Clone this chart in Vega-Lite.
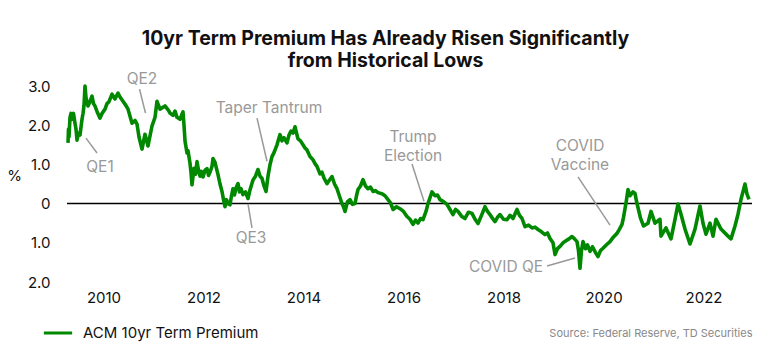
{
  "$schema": "https://vega.github.io/schema/vega-lite/v6.json",
  "width": 685,
  "height": 196,
  "autosize": "none",
  "padding": {"left": 67, "top": 86, "right": 18, "bottom": 68},
  "background": "white",
  "config": {"view": {"stroke": null}, "font": "Inter", "axis": {"labelOverlap": false}},
  "title": {
    "text": ["10yr Term Premium Has Already Risen Significantly", "from Historical Lows"],
    "anchor": "middle",
    "fontSize": 19.5,
    "fontWeight": "bold",
    "color": "#111111",
    "dx": -24,
    "offset": 0,
    "lineHeight": 22
  },
  "encoding": {
    "x": {
      "field": "year", "type": "quantitative",
      "scale": {"domain": [2009.27, 2022.97], "nice": false, "zero": false},
      "axis": {
        "values": [2010, 2012, 2014, 2016, 2018, 2020, 2022],
        "format": "d", "grid": false, "domain": false, "ticks": false,
        "labelFontSize": 15, "labelColor": "#111111", "labelPadding": 8,
        "title": "Source: Federal Reserve, TD Securities",
        "titleFontSize": 11, "titleFontWeight": "normal", "titleColor": "#888888",
        "titleAnchor": "end", "titlePadding": 22
      }
    },
    "y": {
      "field": "tp", "type": "quantitative",
      "scale": {"domain": [-2, 3], "nice": false, "zero": false},
      "axis": {
        "values": [-2, -1, 0, 1, 2, 3],
        "labelExpr": "datum.value == 0 ? '0' : format(abs(datum.value), '.1f')",
        "labelOverlap": false,
        "grid": false, "domain": false, "ticks": false,
        "labelFontSize": 15, "labelColor": "#111111", "labelPadding": 17,
        "title": "%", "titleAngle": 0, "titleX": -53, "titleY": 89,
        "titleAlign": "center", "titleBaseline": "middle",
        "titleFontSize": 15, "titleFontWeight": "normal", "titleColor": "#111111"
      }
    }
  },
  "layer": [
    {
      "data": {"values": [{"year": 2009.27, "year2": 2022.97, "tp": 0}]},
      "mark": {"type": "rule", "color": "#000000", "strokeWidth": 1.5},
      "encoding": {"x2": {"field": "year2"}}
    },
    {
      "data": {"values": [
        {"year": 2009.29, "tp": 1.55}, {"year": 2009.30, "tp": 1.9}, {"year": 2009.31, "tp": 1.7}, {"year": 2009.33, "tp": 2.2},
        {"year": 2009.35, "tp": 2.3}, {"year": 2009.37, "tp": 2.15}, {"year": 2009.40, "tp": 2.3}, {"year": 2009.43, "tp": 2.05},
        {"year": 2009.45, "tp": 1.9}, {"year": 2009.47, "tp": 1.62}, {"year": 2009.50, "tp": 1.8}, {"year": 2009.53, "tp": 1.75},
        {"year": 2009.57, "tp": 2.15}, {"year": 2009.59, "tp": 2.3}, {"year": 2009.61, "tp": 2.5}, {"year": 2009.63, "tp": 3.0},
        {"year": 2009.65, "tp": 2.7}, {"year": 2009.69, "tp": 2.49}, {"year": 2009.73, "tp": 2.6}, {"year": 2009.77, "tp": 2.74},
        {"year": 2009.80, "tp": 2.55}, {"year": 2009.83, "tp": 2.49}, {"year": 2009.87, "tp": 2.35}, {"year": 2009.93, "tp": 2.18},
        {"year": 2009.97, "tp": 2.3}, {"year": 2010.03, "tp": 2.41}, {"year": 2010.07, "tp": 2.55}, {"year": 2010.11, "tp": 2.6},
        {"year": 2010.17, "tp": 2.79}, {"year": 2010.23, "tp": 2.67}, {"year": 2010.29, "tp": 2.82}, {"year": 2010.33, "tp": 2.72},
        {"year": 2010.39, "tp": 2.61}, {"year": 2010.45, "tp": 2.5}, {"year": 2010.49, "tp": 2.41}, {"year": 2010.57, "tp": 2.05},
        {"year": 2010.63, "tp": 2.12}, {"year": 2010.67, "tp": 2.03}, {"year": 2010.71, "tp": 1.7}, {"year": 2010.77, "tp": 1.39},
        {"year": 2010.83, "tp": 1.77}, {"year": 2010.89, "tp": 1.47}, {"year": 2010.97, "tp": 1.98}, {"year": 2011.03, "tp": 2.2},
        {"year": 2011.07, "tp": 2.61}, {"year": 2011.13, "tp": 2.41}, {"year": 2011.23, "tp": 2.49}, {"year": 2011.30, "tp": 2.38},
        {"year": 2011.33, "tp": 2.31}, {"year": 2011.39, "tp": 2.25}, {"year": 2011.43, "tp": 2.36}, {"year": 2011.47, "tp": 2.2},
        {"year": 2011.53, "tp": 2.15}, {"year": 2011.57, "tp": 2.28}, {"year": 2011.59, "tp": 2.34}, {"year": 2011.61, "tp": 2.0},
        {"year": 2011.63, "tp": 1.6}, {"year": 2011.67, "tp": 1.29}, {"year": 2011.69, "tp": 1.35}, {"year": 2011.73, "tp": 1.03},
        {"year": 2011.75, "tp": 0.8}, {"year": 2011.77, "tp": 0.48}, {"year": 2011.81, "tp": 0.9}, {"year": 2011.84, "tp": 0.75},
        {"year": 2011.87, "tp": 1.07}, {"year": 2011.90, "tp": 0.85}, {"year": 2011.93, "tp": 0.7}, {"year": 2011.96, "tp": 0.82},
        {"year": 2011.99, "tp": 0.68}, {"year": 2012.03, "tp": 0.85}, {"year": 2012.07, "tp": 0.89}, {"year": 2012.10, "tp": 0.72},
        {"year": 2012.13, "tp": 0.8}, {"year": 2012.17, "tp": 0.95}, {"year": 2012.19, "tp": 1.15}, {"year": 2012.23, "tp": 1.05},
        {"year": 2012.29, "tp": 0.74}, {"year": 2012.33, "tp": 0.5}, {"year": 2012.37, "tp": 0.31}, {"year": 2012.40, "tp": 0.1},
        {"year": 2012.43, "tp": -0.08}, {"year": 2012.46, "tp": 0.1}, {"year": 2012.49, "tp": 0.0}, {"year": 2012.53, "tp": -0.03},
        {"year": 2012.56, "tp": 0.2}, {"year": 2012.59, "tp": 0.38}, {"year": 2012.62, "tp": 0.22}, {"year": 2012.65, "tp": 0.4},
        {"year": 2012.69, "tp": 0.51}, {"year": 2012.72, "tp": 0.3}, {"year": 2012.75, "tp": 0.38}, {"year": 2012.79, "tp": 0.23},
        {"year": 2012.84, "tp": 0.3}, {"year": 2012.89, "tp": 0.13}, {"year": 2012.93, "tp": 0.35}, {"year": 2012.99, "tp": 0.6},
        {"year": 2013.04, "tp": 0.7}, {"year": 2013.09, "tp": 0.87}, {"year": 2013.13, "tp": 0.7}, {"year": 2013.17, "tp": 0.64},
        {"year": 2013.21, "tp": 0.45}, {"year": 2013.25, "tp": 0.31}, {"year": 2013.29, "tp": 0.7}, {"year": 2013.33, "tp": 0.99},
        {"year": 2013.37, "tp": 1.2}, {"year": 2013.41, "tp": 1.3}, {"year": 2013.47, "tp": 1.5}, {"year": 2013.53, "tp": 1.76},
        {"year": 2013.57, "tp": 1.6}, {"year": 2013.61, "tp": 1.68}, {"year": 2013.67, "tp": 1.55}, {"year": 2013.71, "tp": 1.75},
        {"year": 2013.75, "tp": 1.85}, {"year": 2013.79, "tp": 1.8}, {"year": 2013.83, "tp": 1.96}, {"year": 2013.86, "tp": 1.8},
        {"year": 2013.89, "tp": 1.65}, {"year": 2013.94, "tp": 1.6}, {"year": 2013.99, "tp": 1.5}, {"year": 2014.03, "tp": 1.42},
        {"year": 2014.07, "tp": 1.37}, {"year": 2014.13, "tp": 1.2}, {"year": 2014.19, "tp": 1.12}, {"year": 2014.23, "tp": 1.02},
        {"year": 2014.27, "tp": 0.95}, {"year": 2014.33, "tp": 0.76}, {"year": 2014.37, "tp": 0.8}, {"year": 2014.41, "tp": 0.65},
        {"year": 2014.47, "tp": 0.51}, {"year": 2014.52, "tp": 0.6}, {"year": 2014.57, "tp": 0.69}, {"year": 2014.62, "tp": 0.5},
        {"year": 2014.67, "tp": 0.38}, {"year": 2014.73, "tp": 0.15}, {"year": 2014.77, "tp": 0.0}, {"year": 2014.80, "tp": -0.08},
        {"year": 2014.83, "tp": -0.2}, {"year": 2014.88, "tp": 0.05}, {"year": 2014.93, "tp": 0.1}, {"year": 2014.98, "tp": -0.02},
        {"year": 2015.03, "tp": 0.0}, {"year": 2015.06, "tp": 0.2}, {"year": 2015.09, "tp": 0.36}, {"year": 2015.14, "tp": 0.45},
        {"year": 2015.19, "tp": 0.61}, {"year": 2015.24, "tp": 0.45}, {"year": 2015.29, "tp": 0.38}, {"year": 2015.34, "tp": 0.42},
        {"year": 2015.39, "tp": 0.31}, {"year": 2015.44, "tp": 0.33}, {"year": 2015.49, "tp": 0.28}, {"year": 2015.57, "tp": 0.25},
        {"year": 2015.63, "tp": 0.2}, {"year": 2015.69, "tp": 0.1}, {"year": 2015.74, "tp": 0.02}, {"year": 2015.79, "tp": -0.15},
        {"year": 2015.86, "tp": -0.08}, {"year": 2015.93, "tp": -0.13}, {"year": 2016.00, "tp": -0.2}, {"year": 2016.07, "tp": -0.33},
        {"year": 2016.13, "tp": -0.4}, {"year": 2016.19, "tp": -0.53}, {"year": 2016.24, "tp": -0.42}, {"year": 2016.29, "tp": -0.5},
        {"year": 2016.34, "tp": -0.38}, {"year": 2016.39, "tp": -0.41}, {"year": 2016.45, "tp": -0.2}, {"year": 2016.49, "tp": 0.0},
        {"year": 2016.53, "tp": 0.15}, {"year": 2016.57, "tp": 0.3}, {"year": 2016.63, "tp": 0.2}, {"year": 2016.68, "tp": 0.22},
        {"year": 2016.73, "tp": 0.1}, {"year": 2016.80, "tp": 0.05}, {"year": 2016.87, "tp": -0.02}, {"year": 2016.93, "tp": -0.15},
        {"year": 2016.99, "tp": -0.28}, {"year": 2017.04, "tp": -0.15}, {"year": 2017.09, "tp": -0.2}, {"year": 2017.16, "tp": -0.32},
        {"year": 2017.23, "tp": -0.38}, {"year": 2017.30, "tp": -0.22}, {"year": 2017.37, "tp": -0.25}, {"year": 2017.43, "tp": -0.4},
        {"year": 2017.49, "tp": -0.51}, {"year": 2017.56, "tp": -0.3}, {"year": 2017.63, "tp": -0.08}, {"year": 2017.68, "tp": -0.2},
        {"year": 2017.73, "tp": -0.28}, {"year": 2017.78, "tp": -0.38}, {"year": 2017.83, "tp": -0.46}, {"year": 2017.88, "tp": -0.35},
        {"year": 2017.93, "tp": -0.28}, {"year": 2018.00, "tp": -0.4}, {"year": 2018.07, "tp": -0.41}, {"year": 2018.13, "tp": -0.3},
        {"year": 2018.19, "tp": -0.38}, {"year": 2018.27, "tp": -0.15}, {"year": 2018.32, "tp": -0.3}, {"year": 2018.37, "tp": -0.38},
        {"year": 2018.43, "tp": -0.59}, {"year": 2018.50, "tp": -0.55}, {"year": 2018.57, "tp": -0.62}, {"year": 2018.63, "tp": -0.6},
        {"year": 2018.69, "tp": -0.66}, {"year": 2018.76, "tp": -0.72}, {"year": 2018.83, "tp": -0.79}, {"year": 2018.88, "tp": -0.75},
        {"year": 2018.93, "tp": -0.89}, {"year": 2018.99, "tp": -1.0}, {"year": 2019.03, "tp": -1.3}, {"year": 2019.08, "tp": -1.15},
        {"year": 2019.13, "tp": -1.09}, {"year": 2019.19, "tp": -1.0}, {"year": 2019.25, "tp": -0.95}, {"year": 2019.31, "tp": -0.9},
        {"year": 2019.37, "tp": -0.84}, {"year": 2019.42, "tp": -0.9}, {"year": 2019.47, "tp": -0.97}, {"year": 2019.50, "tp": -1.2},
        {"year": 2019.53, "tp": -1.65}, {"year": 2019.56, "tp": -1.2}, {"year": 2019.59, "tp": -0.97}, {"year": 2019.64, "tp": -1.15},
        {"year": 2019.68, "tp": -1.05}, {"year": 2019.73, "tp": -1.22}, {"year": 2019.78, "tp": -1.1}, {"year": 2019.84, "tp": -1.25},
        {"year": 2019.89, "tp": -1.35}, {"year": 2019.94, "tp": -1.2}, {"year": 2019.99, "tp": -1.14}, {"year": 2020.06, "tp": -1.05},
        {"year": 2020.13, "tp": -0.97}, {"year": 2020.20, "tp": -0.85}, {"year": 2020.27, "tp": -0.76}, {"year": 2020.32, "tp": -0.65},
        {"year": 2020.37, "tp": -0.53}, {"year": 2020.40, "tp": -0.35}, {"year": 2020.43, "tp": -0.13}, {"year": 2020.46, "tp": 0.1},
        {"year": 2020.49, "tp": 0.36}, {"year": 2020.53, "tp": 0.2}, {"year": 2020.59, "tp": 0.3}, {"year": 2020.63, "tp": 0.26},
        {"year": 2020.66, "tp": 0.06}, {"year": 2020.74, "tp": -0.37}, {"year": 2020.80, "tp": -0.57}, {"year": 2020.89, "tp": -0.5},
        {"year": 2020.95, "tp": -0.2}, {"year": 2021.03, "tp": -0.5}, {"year": 2021.13, "tp": -0.4}, {"year": 2021.15, "tp": -0.83},
        {"year": 2021.25, "tp": -0.62}, {"year": 2021.35, "tp": -0.9}, {"year": 2021.43, "tp": -0.4}, {"year": 2021.49, "tp": -0.01},
        {"year": 2021.55, "tp": -0.27}, {"year": 2021.63, "tp": -0.65}, {"year": 2021.73, "tp": -1.03}, {"year": 2021.83, "tp": -0.65},
        {"year": 2021.93, "tp": -0.06}, {"year": 2021.99, "tp": -0.5}, {"year": 2022.05, "tp": -0.78}, {"year": 2022.13, "tp": -0.5},
        {"year": 2022.19, "tp": -0.83}, {"year": 2022.25, "tp": -0.4}, {"year": 2022.35, "tp": -0.65}, {"year": 2022.49, "tp": -0.83},
        {"year": 2022.55, "tp": -0.9}, {"year": 2022.63, "tp": -0.57}, {"year": 2022.69, "tp": -0.27}, {"year": 2022.75, "tp": 0.11},
        {"year": 2022.83, "tp": 0.5}, {"year": 2022.87, "tp": 0.24}, {"year": 2022.91, "tp": 0.11}
      ]},
      "mark": {"type": "line", "strokeWidth": 3.6, "strokeJoin": "round"},
      "encoding": {
        "color": {
          "datum": "ACM 10yr Term Premium", "type": "nominal",
          "scale": {"range": ["#008800"]},
          "legend": {
            "orient": "none", "legendX": -25, "legendY": 231, "title": null,
            "symbolType": "stroke", "symbolStrokeWidth": 3, "symbolSize": 800,
            "labelFontSize": 15, "labelColor": "#111111", "labelOffset": 9, "labelLimit": 400, "padding": 0
          }
        }
      }
    },
    {
      "data": {"values": [
        {"year": 2009.65, "tp": 1.67, "year2": 2009.87, "tp2": 1.29},
        {"year": 2010.72, "tp": 2.92, "year2": 2010.84, "tp2": 2.31},
        {"year": 2013.07, "tp": 2.18, "year2": 2013.27, "tp2": 1.08},
        {"year": 2012.89, "tp": -0.01, "year2": 2012.97, "tp2": -0.62},
        {"year": 2016.17, "tp": 1.01, "year2": 2016.41, "tp2": 0.06},
        {"year": 2019.49, "tp": 0.68, "year2": 2020.13, "tp2": -0.55},
        {"year": 2018.87, "tp": -1.59, "year2": 2019.43, "tp2": -1.39}
      ]},
      "mark": {"type": "rule", "color": "#999999", "strokeWidth": 1.5},
      "encoding": {
        "x2": {"field": "year2"},
        "y2": {"field": "tp2"}
      }
    },
    {
      "data": {"values": [
        {"label": "QE1", "year": 2009.93, "tp": 0.93},
        {"label": "QE2", "year": 2010.77, "tp": 3.18},
        {"label": "Taper Tantrum", "year": 2013.31, "tp": 2.44},
        {"label": "QE3", "year": 2012.95, "tp": -0.88},
        {"label": "Trump", "year": 2016.19, "tp": 1.70},
        {"label": "Election", "year": 2016.19, "tp": 1.21},
        {"label": "COVID", "year": 2019.53, "tp": 1.47},
        {"label": "Vaccine", "year": 2019.53, "tp": 0.98},
        {"label": "COVID QE", "year": 2018.05, "tp": -1.62}
      ]},
      "mark": {"type": "text", "fontSize": 15.5, "color": "#999999", "align": "center", "baseline": "middle"},
      "encoding": {
        "text": {"field": "label"}
      }
    }
  ]
}
